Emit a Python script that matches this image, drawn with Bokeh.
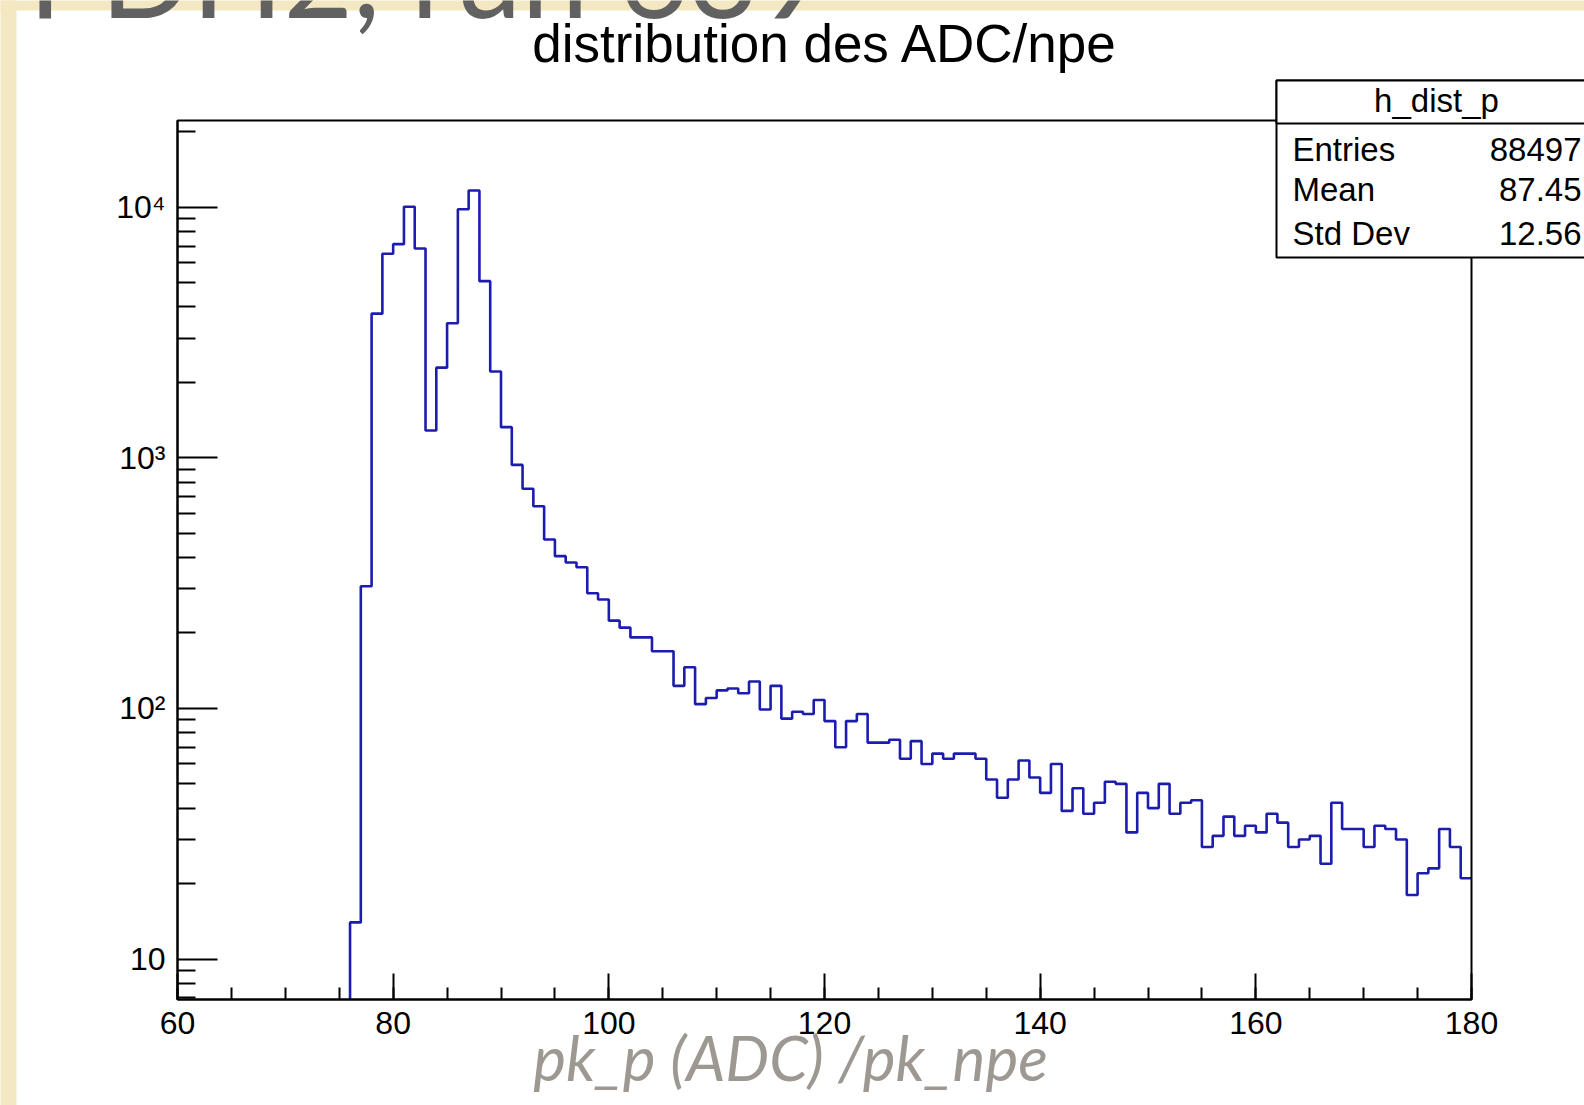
import numpy as np
from bokeh.plotting import figure
from bokeh.models import Range1d, Label, BoxAnnotation, FixedTicker
from bokeh.embed import file_html
from bokeh.resources import INLINE

# ---------------- data ----------------
bin_edges = list(range(76, 181))          # 1-unit bins, 76 .. 180
counts = [14, 307, 3760, 6520, 7120, 10040, 6840, 1285, 2290, 3445,
          9820, 11660, 5070, 2210, 1325, 937, 752, 641, 472, 405,
          382, 366, 288, 272, 224, 210, 192, 192, 169, 169,
          123, 146, 104, 110, 118, 120, 115, 128, 99, 123,
          91, 97, 95, 108, 89, 70, 89, 95, 73, 73,
          75, 63, 74, 60, 66, 63, 66, 66, 63, 52,
          44, 52, 62, 53, 46, 60, 39, 48, 38, 42,
          51, 50, 32, 46, 40, 50, 38, 42, 43, 28,
          31, 37, 31, 34, 32, 38, 35, 28, 30, 31,
          24, 42, 33, 33, 28, 34, 33, 30, 18, 22,
          23, 33, 28, 21]
x_ticks = [60, 80, 100, 120, 140, 160, 180]
y_ticks = [10, 100, 1000, 10000]
y_tick_labels = {10: "10", 100: "10\u00b2", 1000: "10\u00b3", 10000: "10\u2074"}
hist_name = "h_dist_p"
stat_names = ["Entries", "Mean", "Std Dev"]
stat_values = ["88497", "87.45", "12.56"]
title_text = "distribution des ADC/npe"
xlabel_text = "pk_p (ADC) /pk_npe"
slide_text = "PDH2, run 639"

# ---------------- geometry helpers (styling only) ----------------
W, H = 1584, 1105
FL, FR, FT, FB = 177, 1471, 120, 999      # ROOT frame in page pixels
XMIN, XMAX = 60, 180
LYMIN = 4 - (FB - 206.7) / 250.6
LYMAX = 4 + (206.7 - FT) / 250.6
YMIN, YMAX = 10 ** LYMIN, 10 ** LYMAX

def dx(px):
    return XMIN + (px - FL) * (XMAX - XMIN) / (FR - FL)

def dy(py):
    return 10 ** (LYMAX - (py - FT) * (LYMAX - LYMIN) / (FB - FT))

def base_y(py, fs):
    # anchor so that the rendered text baseline lands on page pixel row py
    return dy(py - 0.38 * fs)

p = figure(width=W, height=H, output_backend="svg", toolbar_location=None,
           x_range=Range1d(dx(0), dx(W)), y_range=Range1d(dy(H), dy(0)),
           y_axis_type="log", title=None,
           min_border_left=0, min_border_right=0,
           min_border_top=0, min_border_bottom=0)
p.background_fill_color = "white"
p.border_fill_color = "white"
p.outline_line_color = None
p.grid.visible = False

# beige slide strips
BEIGE = "#f4e8c3"
p.add_layout(BoxAnnotation(left=dx(-20), right=dx(16), bottom=dy(H + 20), top=dy(-20),
                           fill_color=BEIGE, fill_alpha=1, line_alpha=0, level="underlay"))
p.add_layout(BoxAnnotation(left=dx(-20), right=dx(W + 20), bottom=dy(10), top=dy(-20),
                           fill_color=BEIGE, fill_alpha=1, line_alpha=0, level="underlay"))

# histogram outline
xs = [bin_edges[0]] + bin_edges
ys = [YMIN] + counts + [counts[-1]]
p.step(x=xs, y=ys, mode="after", line_color="#1c1cae", line_width=2.6)

# ROOT frame
p.add_layout(BoxAnnotation(left=XMIN, right=XMAX, bottom=YMIN, top=YMAX,
                           fill_alpha=0, line_color="black", line_alpha=1, line_width=2))

FONT = "Liberation Sans"
for ax in (p.xaxis[0], p.yaxis[0]):
    ax.axis_line_color = "black"
    ax.axis_line_width = 2
    ax.major_tick_line_width = 2
    ax.minor_tick_line_width = 2
    ax.major_tick_out = 0
    ax.minor_tick_out = 0
    ax.major_label_text_font = FONT
    ax.major_label_text_font_size = "32px"
    ax.major_label_text_color = "black"

p.xaxis.fixed_location = YMIN
p.xaxis.bounds = (XMIN, XMAX)
p.xaxis.ticker = FixedTicker(ticks=x_ticks, minor_ticks=list(range(XMIN, XMAX + 1, 5)))
p.xaxis.major_tick_in = 26
p.xaxis.minor_tick_in = 12
p.xaxis.major_label_standoff = 12

minor_y = [m * 10 ** e for e in range(0, 5) for m in range(2, 10)]
minor_y = [v for v in minor_y if YMIN <= v <= YMAX]
p.yaxis.fixed_location = XMIN
p.yaxis.bounds = (YMIN, YMAX)
p.yaxis.ticker = FixedTicker(ticks=y_ticks, minor_ticks=minor_y)
p.yaxis.major_tick_in = 40
p.yaxis.minor_tick_in = 18
p.yaxis.major_label_standoff = 12
p.yaxis.major_label_overrides = y_tick_labels

# title
p.add_layout(Label(x=dx(825), y=base_y(63, 53), text=title_text, text_align="center",
                   text_baseline="alphabetic", text_font=FONT, text_font_size="53px",
                   text_color="black"))

# stats box
p.add_layout(BoxAnnotation(left=dx(1276), right=dx(W + 40), top=dy(80), bottom=dy(257),
                           fill_color="white", fill_alpha=1, line_color="black",
                           line_alpha=1, line_width=2))
p.add_layout(BoxAnnotation(left=dx(1276), right=dx(W + 40), top=dy(80), bottom=dy(123),
                           fill_color="white", fill_alpha=1, line_color="black",
                           line_alpha=1, line_width=2))
SFS = 33
p.add_layout(Label(x=dx(1436), y=base_y(113, SFS), text=hist_name, text_align="center",
                   text_baseline="alphabetic", text_font=FONT, text_font_size=f"{SFS}px",
                   text_color="black"))
for i, (nm, vl) in enumerate(zip(stat_names, stat_values)):
    row = [161.7, 202, 246][i]
    p.add_layout(Label(x=dx(1292), y=base_y(row, SFS), text=nm, text_align="left",
                       text_baseline="alphabetic", text_font=FONT,
                       text_font_size=f"{SFS}px", text_color="black"))
    p.add_layout(Label(x=dx(1581), y=base_y(row, SFS), text=vl, text_align="right",
                       text_baseline="alphabetic", text_font=FONT,
                       text_font_size=f"{SFS}px", text_color="black"))

# slide overlay texts
XFS = 62
p.add_layout(Label(x=dx(790), y=base_y(1080, XFS), text=xlabel_text, text_align="center",
                   text_baseline="alphabetic", text_font="Lato", text_font_style="italic",
                   text_font_size=f"{XFS}px", text_color="#9d9891"))
BFS = 120
p.add_layout(Label(x=dx(28), y=base_y(17, BFS), text=slide_text, text_align="left",
                   text_baseline="alphabetic", text_font="Lato", text_font_size=f"{BFS}px",
                   text_color="#616161"))

open("out.html", "w").write(file_html(p, INLINE))
